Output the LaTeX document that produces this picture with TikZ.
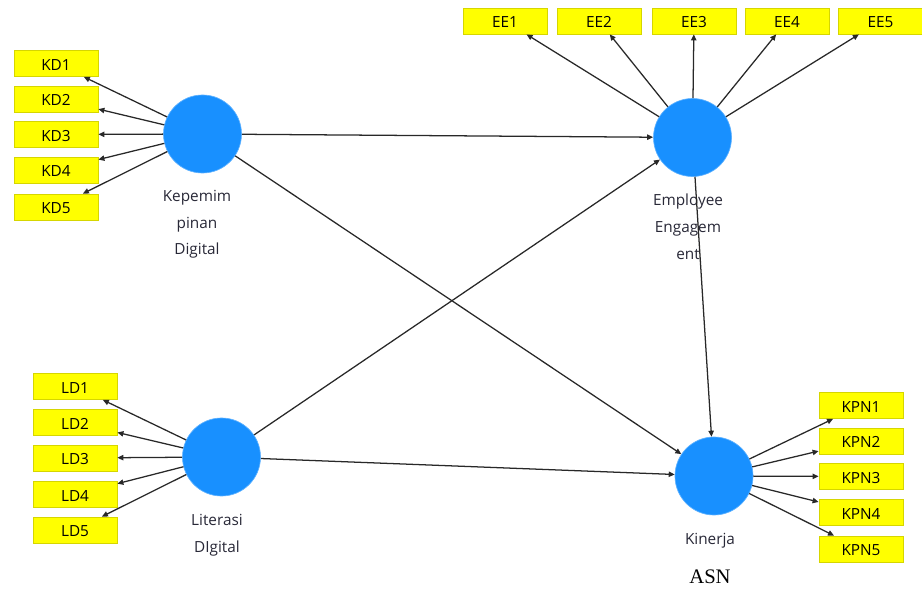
\documentclass[tikz,border=0pt]{standalone}
\usepackage{fontspec}
\setmainfont{Open Sans}
\newfontfamily\asnfont{Liberation Serif}
\usetikzlibrary{arrows.meta}

\definecolor{latblue}{RGB}{24,144,255}
\definecolor{indyellow}{RGB}{255,255,0}
\definecolor{indborder}{RGB}{214,214,0}
\definecolor{pathgray}{RGB}{40,40,40}
\definecolor{labelink}{RGB}{40,40,55}

\tikzset{
  indicator/.style={rectangle, fill=indyellow, draw=indborder, line width=0.6pt,
    minimum width=63pt, minimum height=19.5pt, inner sep=0pt,
    text height=10.2pt, text depth=0pt,
    font=\fontsize{11.5}{12}\selectfont, text=black},
  latent/.style={circle, fill=latblue, draw=latblue!70, line width=0.5pt,
    minimum size=58.5pt, inner sep=0pt},
  latlabel/.style={align=center, inner sep=0pt, anchor=north, text=labelink,
    font=\fontsize{11.5}{20}\selectfont},
  loading/.style={draw=pathgray, line width=0.95pt,
    -{Triangle[length=4.5pt,width=4pt]}},
}

\begin{document}
\begin{tikzpicture}[x=0.75pt, y=-0.75pt]
\useasboundingbox (0,0) rectangle (922,591);

% latent constructs
\node[latent] (kd)  at (202.5,134) {};
\node[latent] (ee)  at (692.5,137.5) {};
\node[latent] (ld)  at (221.5,457) {};
\node[latent] (kpn) at (714,476) {};

% construct names
\node[latlabel] (kdlab)  at (197,190) {Kepemim\\pinan\\Digital};
\node[latlabel] (eelab)  at (688,194) {Employee\\Engagem\\ent};
\node[latlabel] (ldlab)  at (217,514) {Literasi\\DIgital};
\node[latlabel] (kpnlab) at (710,533) {Kinerja};
\node[anchor=base, inner sep=0pt, font=\asnfont\fontsize{15.5}{18}\selectfont] (asn) at (710,584) {ASN};

% indicators of Kepemimpinan Digital
\node[indicator] (kd1) at (56,63.5) {KD1};
\node[indicator] (kd2) at (56,99) {KD2};
\node[indicator] (kd3) at (56,134.5) {KD3};
\node[indicator] (kd4) at (56,170) {KD4};
\node[indicator] (kd5) at (56,207) {KD5};

% indicators of Employee Engagement
\node[indicator] (ee1) at (505,21) {EE1};
\node[indicator] (ee2) at (599,21) {EE2};
\node[indicator] (ee3) at (694,21) {EE3};
\node[indicator] (ee4) at (787,21) {EE4};
\node[indicator] (ee5) at (880.5,21) {EE5};

% indicators of Literasi Digital
\node[indicator] (ld1) at (75,386.5) {LD1};
\node[indicator] (ld2) at (75,422.5) {LD2};
\node[indicator] (ld3) at (75,458) {LD3};
\node[indicator] (ld4) at (75,494.5) {LD4};
\node[indicator] (ld5) at (75,530) {LD5};

% indicators of Kinerja ASN
\node[indicator] (kpn1) at (861,405.5) {KPN1};
\node[indicator] (kpn2) at (861,441) {KPN2};
\node[indicator] (kpn3) at (861,476.5) {KPN3};
\node[indicator] (kpn4) at (861,512.5) {KPN4};
\node[indicator] (kpn5) at (861,549) {KPN5};

% outer loadings
\foreach \i in {1,...,5} {
  \draw[loading] (kd) -- (kd\i);
  \draw[loading] (ee) -- (ee\i);
  \draw[loading] (ld) -- (ld\i);
  \draw[loading] (kpn) -- (kpn\i);
}

% structural paths
\draw[loading] (kd) -- (ee);
\draw[loading] (kd) -- (kpn);
\draw[loading] (ld) -- (ee);
\draw[loading] (ld) -- (kpn);
\draw[loading] (ee) -- (kpn);
\end{tikzpicture}
\end{document}
